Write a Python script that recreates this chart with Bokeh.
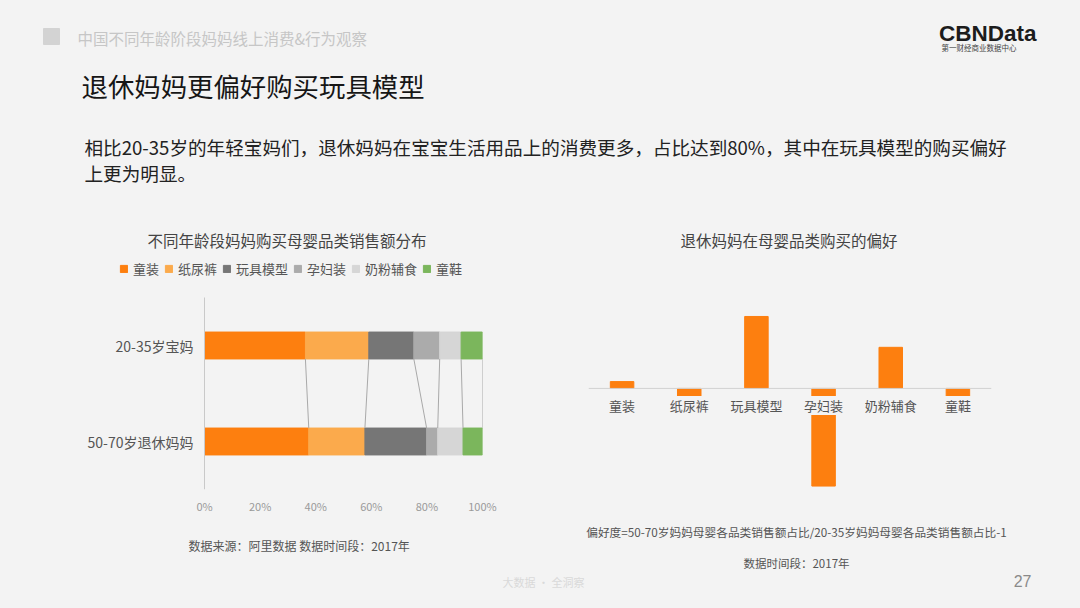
import numpy as np
from bokeh.plotting import figure
from bokeh.models import (Range1d, ColumnDataSource, FixedTicker, Span, LabelSet,
                          Legend, LegendItem)
from bokeh.layouts import column, row
from bokeh.embed import file_html
from bokeh.resources import INLINE
from bokeh.core.properties import value

# ---------------- data ----------------
categories = ["童装", "纸尿裤", "玩具模型", "孕妇装", "奶粉辅食", "童鞋"]
groups = ["20-35岁宝妈", "50-70岁退休妈妈"]
share_young = [36.3, 22.8, 16.2, 9.3, 7.7, 7.7]      # 20-35岁宝妈, %
share_retired = [37.5, 20.2, 22.2, 4.0, 9.1, 7.0]    # 50-70岁退休妈妈, %
preference = [0.04, -0.05, 0.42, -0.57, 0.24, -0.05]
x_ticks = [0, 20, 40, 60, 80, 100]
x_tick_labels = ["0%", "20%", "40%", "60%", "80%", "100%"]
cat_colors = ["#fd7f0f", "#fbaa4c", "#767676", "#ababab", "#d6d6d6", "#7bb65c"]

BG = "#f3f3f3"
FONT = "Noto Sans CJK SC"


def blank(width, height, **kw):
    return figure(width=width, height=height, output_backend="svg", toolbar_location=None,
                  background_fill_color=BG, border_fill_color=BG, outline_line_color=None, **kw)


# ---------------- header ----------------
header = blank(1080, 218, x_range=Range1d(0, 1080), y_range=Range1d(218, 0),
               x_axis_type=None, y_axis_type=None, min_border=0)
header.quad(left=[43], right=[59], top=[28], bottom=[44], color="#d3d3d3")
header.text(x=[77], y=[37], text=["中国不同年龄阶段妈妈线上消费&行为观察"], text_font=value(FONT),
            text_font_size="15.5px", text_color="#c6c6c6", text_baseline="middle")
header.text(x=[81], y=[85], text=["退休妈妈更偏好购买玩具模型"], text_font=value(FONT),
            text_font_size="26.4px", text_color="#161616", text_baseline="middle")
header.text(x=[84, 84], y=[146, 172],
            text=["相比20-35岁的年轻宝妈们，退休妈妈在宝宝生活用品上的消费更多，占比达到80%，其中在玩具模型的购买偏好",
                  "上更为明显。"],
            text_font=value(FONT), text_font_size="18.6px", text_color="#222222", text_baseline="middle")
header.text(x=[1036], y=[33], text=["CBNData"], text_font=value("Liberation Sans"),
            text_font_size="22.5px", text_font_style="bold", text_color="#1c1c1c",
            text_align="right", text_baseline="middle")
header.text(x=[941], y=[47], text=["第一财经商业数据中心"], text_font=value(FONT),
            text_font_size="7.5px", text_color="#444444", text_baseline="middle")

# ---------------- left chart ----------------
ypos = [len(groups) - 1 - i for i in range(len(groups))]
bar_h = 0.28
left = blank(540, 302, x_range=Range1d(-66.19, 100), y_range=Range1d(-0.5, 1.9375),
             min_border_left=20, min_border_right=58, min_border_top=37, min_border_bottom=31)
stackers = [f"s{i}" for i in range(len(categories))]
data = {"y": ypos}
for i, s in enumerate(stackers):
    data[s] = [share_young[i], share_retired[i]]
src = ColumnDataSource(data)
bars = left.hbar_stack(stackers, y="y", height=bar_h, color=cat_colors, source=src)

b_top = np.cumsum(share_young)
b_bot = np.cumsum(share_retired)
left.segment(x0=b_top, y0=[ypos[0] - bar_h / 2] * len(b_top), x1=b_bot, y1=[ypos[1] + bar_h / 2] * len(b_bot),
             line_color="#a9a9a9", line_width=1)

left.grid.visible = False
left.xaxis.ticker = FixedTicker(ticks=x_ticks)
left.xaxis.major_label_overrides = dict(zip(x_ticks, x_tick_labels))
left.xaxis.axis_line_color = None
left.xaxis.major_tick_line_color = None
left.xaxis.minor_tick_line_color = None
left.xaxis.major_tick_out = 0
left.xaxis.major_label_text_font = FONT
left.xaxis.major_label_text_font_size = "11px"
left.xaxis.major_label_text_color = "#9a9a9a"
left.xaxis.major_label_standoff = 8

# y axis line drawn at x = 0 (the 0% line); group names are placed beside it
left.yaxis.fixed_location = 0
left.yaxis.ticker = FixedTicker(ticks=[])
left.yaxis.bounds = (-0.5, 1.5)
left.yaxis.axis_line_color = "#c9c9c9"
left.yaxis.major_tick_line_color = None
left.yaxis.minor_tick_line_color = None
left.yaxis.major_tick_out = 0
left.yaxis.major_tick_in = 0
left.yaxis.major_label_standoff = 0
grp_src = ColumnDataSource(dict(x=[0] * len(groups), y=ypos, t=groups))
left.add_layout(LabelSet(x="x", y="y", text="t", source=grp_src, x_offset=-11,
                         text_align="right", text_baseline="middle", text_font=value(FONT),
                         text_font_size="14px", text_color="#555555"))

lg = Legend(items=[LegendItem(label=c, renderers=[r]) for c, r in zip(categories, bars)],
            orientation="horizontal", location=(99, 211), padding=0, margin=0, spacing=5,
            glyph_width=9, glyph_height=9, label_standoff=5, label_height=16,
            label_text_font=FONT, label_text_font_size="13px", label_text_color="#555555",
            background_fill_alpha=0, border_line_color=None)
left.add_layout(lg, "center")

left.title.text = "不同年龄段妈妈购买母婴品类销售额分布"
left.title.align = "left"
left.title.offset = 127
left.title.text_font = FONT
left.title.text_font_size = "15.5px"
left.title.text_font_style = "normal"
left.title.text_color = "#444444"

# ---------------- right chart ----------------
right = blank(540, 302, x_range=categories, y_range=Range1d(-0.59, 0.776),
              x_axis_location=None, y_axis_location=None,
              min_border_left=48, min_border_right=89, min_border_top=37, min_border_bottom=31)
right.vbar(x=categories, top=preference, width=0.35, color="#fd7f0f")
right.add_layout(Span(location=0, dimension="width", line_color="#d2d2d2", line_width=1))
lab_src = ColumnDataSource(dict(x=categories, y=[0] * len(categories), t=categories))
right.add_layout(LabelSet(x="x", y="y", text="t", source=lab_src, y_offset=-17,
                          text_align="center", text_baseline="middle",
                          text_font=value(FONT), text_font_size="13px", text_color="#555555",
                          background_fill_color=BG))
right.grid.visible = False
right.title.text = "退休妈妈在母婴品类购买的偏好"
right.title.align = "left"
right.title.offset = 92
right.title.text_font = FONT
right.title.text_font_size = "15.5px"
right.title.text_font_style = "normal"
right.title.text_color = "#444444"

# ---------------- footer ----------------
footer = blank(1080, 88, x_range=Range1d(0, 1080), y_range=Range1d(608, 520),
               x_axis_type=None, y_axis_type=None, min_border=0)
footer.text(x=[188], y=[545], text=["数据来源：阿里数据   数据时间段：2017年"], text_font=value(FONT),
            text_font_size="12px", text_color="#555555", text_baseline="middle")
footer.text(x=[796], y=[531], text=["偏好度=50-70岁妈妈母婴各品类销售额占比/20-35岁妈妈母婴各品类销售额占比-1"],
            text_font=value(FONT), text_font_size="11.7px", text_color="#555555",
            text_align="center", text_baseline="middle")
footer.text(x=[796], y=[562], text=["数据时间段：2017年"], text_font=value(FONT),
            text_font_size="11.5px", text_color="#555555", text_align="center", text_baseline="middle")
footer.text(x=[1031], y=[580], text=["27"], text_font=value("Liberation Sans"),
            text_font_size="16px", text_color="#8a8a8a", text_align="right", text_baseline="middle")
footer.text(x=[543], y=[581], text=["大数据 · 全洞察"], text_font=value(FONT),
            text_font_size="11px", text_color="#d9d9d9", text_align="center", text_baseline="middle")

layout = column(header, row(left, right, spacing=0, styles={"background-color": BG}), footer,
                spacing=0, styles={"background-color": BG})
open("out.html", "w").write(file_html(layout, INLINE))
